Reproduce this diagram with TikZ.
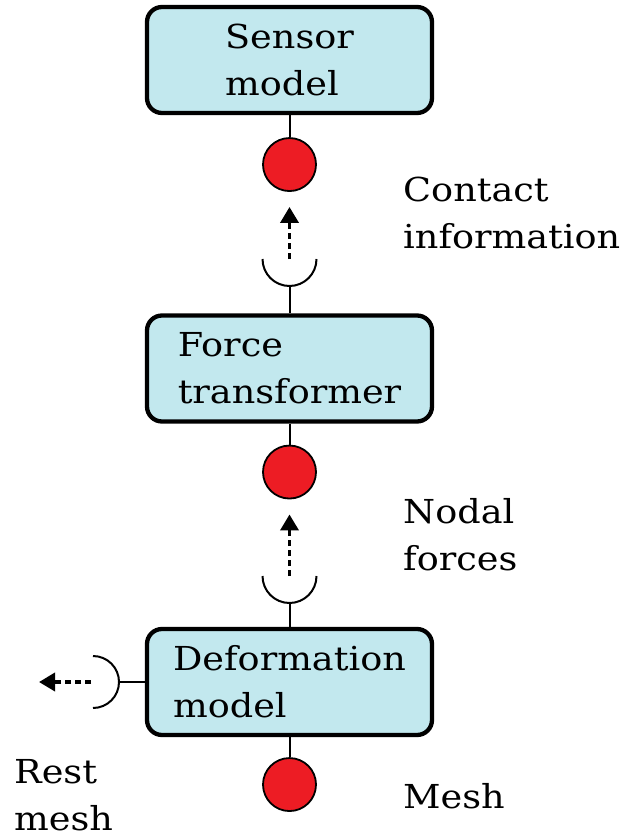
\documentclass[tikz,border=0pt]{standalone}
\usepackage{fontspec}
\setmainfont{DejaVu Serif}[FakeStretch=1.11]
\usepackage{tikz}
\usetikzlibrary{arrows.meta, positioning}
\definecolor{boxblue}{HTML}{C2E8EE}
\definecolor{portred}{HTML}{ED1C24}

\begin{document}
\begin{tikzpicture}[
		x=1pt, y=1pt,
		every node/.style={font=\fontsize{33}{47}\selectfont},
		block/.style={rectangle, rounded corners=15pt, draw, line width=4.3pt, fill=boxblue, minimum width=285pt, minimum height=106pt, align=left, inner sep=0pt},
		port/.style={circle, draw, line width=1.8pt, fill=portred, minimum size=53pt, inner sep=0pt},
		wire/.style={line width=2pt},
		flow/.style={line width=3.6pt, dash pattern=on 6pt off 4pt, -{Triangle[length=16pt, width=18pt]}},
		lbl/.style={align=left, inner sep=0pt, anchor=base west},
	]
		\useasboundingbox (0,0) rectangle (624,-837);

		%Blocks
		\node (sensor) [block] at (289.5,-60) {Sensor\\model};
		\node (force) [block] at (289.5,-368.5) {Force\\transformer};
		\node (deform) [block] at (289.5,-682) {Deformation\\model};

		%Ports
		\node (contact) [port, below=22pt of sensor] {};
		\node (nodal) [port, below=21pt of force] {};
		\node (mesh) [port, below=20pt of deform] {};

		%Sockets
		\coordinate (sockforce) at (289.5,-259);
		\coordinate (sockdeform) at (289.5,-576);
		\coordinate (sockrest) at (93,-682);
		\coordinate (restend) at (39,-682);

		%Labels (base = last line)
		\node (contactlbl) [lbl] at (403,-248.3) {Contact\\information};
		\node (nodallbl) [lbl] at (403,-570) {Nodal\\forces};
		\node (meshlbl) [lbl] at (403,-808.3) {Mesh};
		\node (restlbl) [lbl] at (14,-830.7) {Rest\\mesh};

		%Lines
		\draw[wire] (sensor) -- (contact);
		\draw[wire] (force) -- (nodal);
		\draw[wire] (deform) -- (mesh);

		\draw[wire] (force.north) -- ([yshift=-27pt]sockforce);
		\draw[wire] ([xshift=-27pt]sockforce) arc[start angle=180, end angle=360, radius=27];
		\draw[flow, shorten >=15pt] (sockforce) -- (contact);

		\draw[wire] (deform.north) -- ([yshift=-27pt]sockdeform);
		\draw[wire] ([xshift=-27pt]sockdeform) arc[start angle=180, end angle=360, radius=27];
		\draw[flow, shorten >=15pt] (sockdeform) -- (nodal);

		\draw[wire] (deform.west) -- ([xshift=26pt]sockrest);
		\draw[wire] ([yshift=26pt]sockrest) arc[start angle=90, end angle=-90, radius=26];
		\draw[flow] ([xshift=-2pt]sockrest) -- (restend);
	\end{tikzpicture}
\end{document}
